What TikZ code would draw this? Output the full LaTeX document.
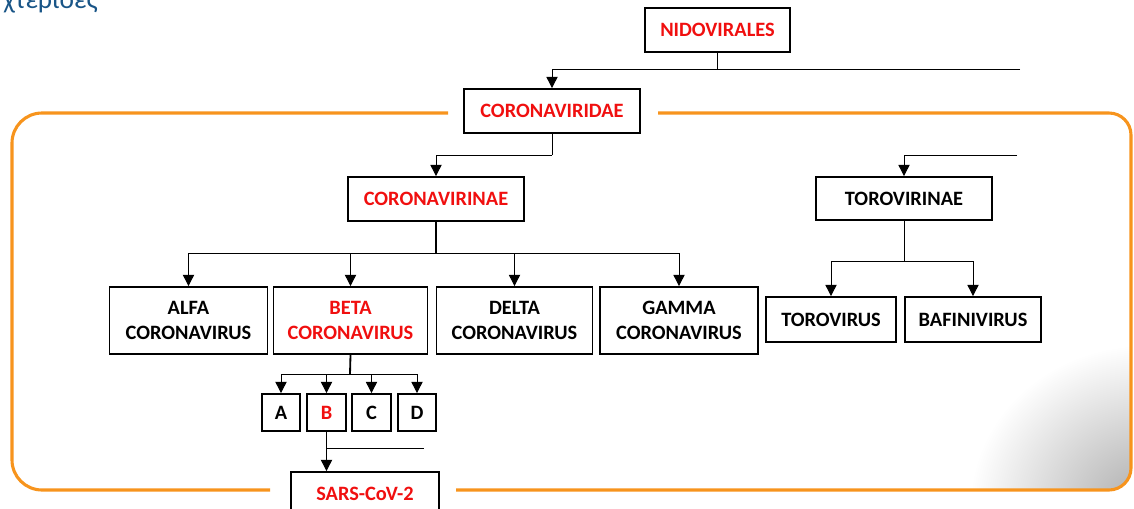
\documentclass[tikz,border=0pt]{standalone}
\usepackage{fontspec}
\setmainfont{Carlito}
\usepackage{tikz}
\usetikzlibrary{arrows.meta, positioning}

\definecolor{taxred}{RGB}{240,15,15}
\definecolor{frameorange}{RGB}{247,148,29}
\definecolor{headblue}{RGB}{25,85,135}

\tikzset{
  taxbox/.style={draw, line width=1.3pt, inner sep=0pt, align=center,
    font=\fontsize{14.5}{17.5}\selectfont\bfseries},
  redtext/.style={text=taxred},
  link/.style={line width=0.7pt},
  arr/.style={link, -{Triangle[width=8pt,length=8pt]}},
  frame/.style={draw=frameorange, line width=2.2pt, rounded corners=0.75cm}
}

\begin{document}
\begin{tikzpicture}[x=0.025cm, y=-0.025cm]
\clip (0,0) rectangle (1134,508);

% corner shadow
\begin{scope}
\clip[rounded corners=0.55cm] (12,113) rectangle (1131,490);
\shade[inner color=gray!65, outer color=white] (1145,505) ellipse (175 and 160);
\end{scope}

% orange frame, open round the two red boxes
\draw[frame] (448,113) -- (12,113) -- (12,490) -- (270,490);
\draw[frame, rounded corners=0.55cm] (456,490) -- (1131,490) -- (1131,113) -- (658,113);

\node at (3,8) (head) [anchor=base west, inner sep=0pt, text=headblue,
  font=\fontsize{19.5}{21}\selectfont] {χτεριοες};

\node at (717.5,30) (nido) [taxbox, redtext, minimum width=3.625cm, minimum height=1.1cm]
{NIDOVIRALES};

\node at (552,111) (coridae) [taxbox, redtext, minimum width=4.4cm, minimum height=1.1cm]
{CORONAVIRIDAE};

\node at (436,199) (corinae) [taxbox, redtext, minimum width=4.4cm, minimum height=1.1cm]
{CORONAVIRINAE};

\node at (904,198.5) (torinae) [taxbox, minimum width=4.4cm, minimum height=1.075cm]
{TOROVIRINAE};

\node at (188.5,320.5) (alfa) [taxbox, minimum width=3.95cm, minimum height=1.675cm]
{ALFA\\CORONAVIRUS};

\node at (350.5,320.5) (beta) [taxbox, redtext, minimum width=3.85cm, minimum height=1.675cm]
{BETA\\CORONAVIRUS};

\node at (514.5,320.5) (delta) [taxbox, minimum width=3.9cm, minimum height=1.675cm]
{DELTA\\CORONAVIRUS};

\node at (679,320.5) (gamma) [taxbox, minimum width=3.95cm, minimum height=1.675cm]
{GAMMA\\CORONAVIRUS};

\node at (831,319.5) (torov) [taxbox, minimum width=3.25cm, minimum height=1.125cm]
{TOROVIRUS};

\node at (973,319.5) (bafin) [taxbox, minimum width=3.4cm, minimum height=1.125cm]
{BAFINIVIRUS};

\node at (281,412.5) (linA) [taxbox, minimum width=0.95cm, minimum height=0.925cm] {A};
\node at (326.5,412.5) (linB) [taxbox, redtext, minimum width=0.975cm, minimum height=0.925cm] {B};
\node at (371.5,412.5) (linC) [taxbox, minimum width=0.975cm, minimum height=0.925cm] {C};
\node at (417,412.5) (linD) [taxbox, minimum width=0.95cm, minimum height=0.925cm] {D};

\node at (365,494) (sars) [taxbox, redtext, minimum width=3.7cm, minimum height=1.1cm]
{SARS-CoV-2};

% branch points and loose line ends
\coordinate (nidoend) at (1020,69);
\coordinate (corend) at (1017,155);
\coordinate (cvbar) at (436,253);
\coordinate (tvbar) at (904,261);
\coordinate (bbar) at (350,374);
\coordinate (bside) at (424,448);

\draw[link] (nido.south) -- (nido.south |- nidoend);
\draw[arr] (nidoend) -| (coridae.north);

\draw[link] (coridae.south) -- (coridae.south |- corend);
\draw[arr] (corend) -| (torinae.north);
\draw[arr] (coridae.south |- corend) -| (corinae.north);

\draw[line width=1.5pt] (corinae.south) -- (cvbar);
\draw[arr] (cvbar) -| (alfa.north);
\draw[arr] (cvbar) -| (beta.north);
\draw[arr] (cvbar) -| (delta.north);
\draw[arr] (cvbar) -| (gamma.north);

\draw[link] (torinae.south) -- (tvbar);
\draw[arr] (tvbar) -| (torov.north);
\draw[arr] (tvbar) -| (bafin.north);

\draw[line width=1.3pt] (beta.south) -- (bbar);
\draw[arr] (bbar) -| (linA.north);
\draw[arr] (bbar) -| (linB.north);
\draw[arr] (bbar) -| (linC.north);
\draw[arr] (bbar) -| (linD.north);

\draw[arr] (linB.south) -- (linB.south |- sars.north);
\draw[link] (linB.south |- bside) -- (bside);
\end{tikzpicture}
\end{document}
